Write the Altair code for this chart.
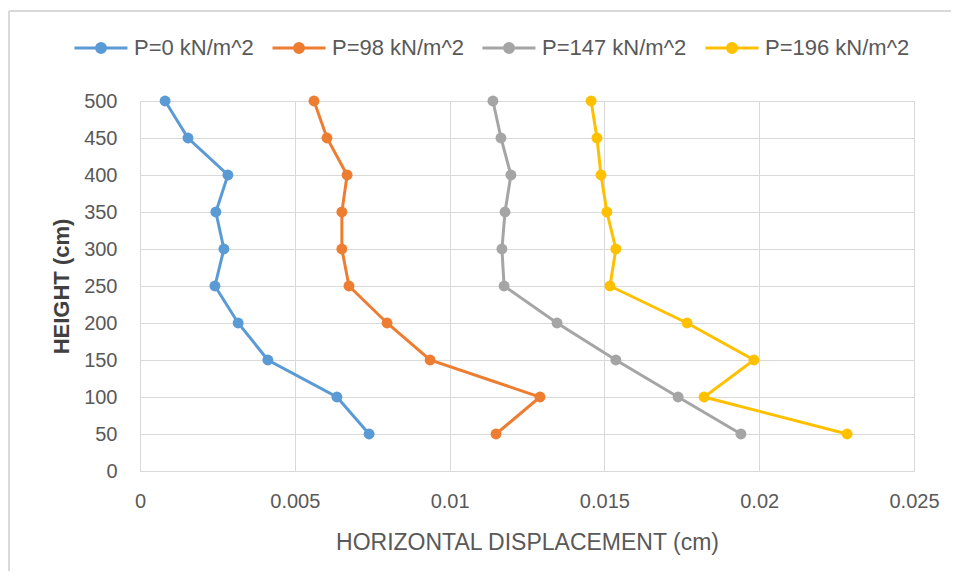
import altair as alt
import pandas as pd

heights = [500, 450, 400, 350, 300, 250, 200, 150, 100, 50]
p0 = [0.00081, 0.00155, 0.00284, 0.00245, 0.00271, 0.00242, 0.00317, 0.00413, 0.00636, 0.0074]
p98 = [0.00562, 0.00604, 0.00669, 0.00652, 0.00652, 0.00675, 0.00798, 0.00937, 0.01292, 0.0115]
p147 = [0.0114, 0.01166, 0.01198, 0.01179, 0.01169, 0.01176, 0.01347, 0.01537, 0.01738, 0.01941]
p196 = [0.01457, 0.01476, 0.01489, 0.01508, 0.01537, 0.01518, 0.01767, 0.01983, 0.01822, 0.02284]
series_names = ["P=0 kN/m^2", "P=98 kN/m^2", "P=147 kN/m^2", "P=196 kN/m^2"]
colors = ["#5B9BD5", "#ED7D31", "#A5A5A5", "#FFC000"]
x_ticks = [0, 0.005, 0.01, 0.015, 0.02, 0.025]
y_ticks = [0, 50, 100, 150, 200, 250, 300, 350, 400, 450, 500]

rows = []
for name, vals in zip(series_names, [p0, p98, p147, p196]):
    for i, (h, v) in enumerate(zip(heights, vals)):
        rows.append({"series": name, "height": h, "disp": v, "order": i})
df = pd.DataFrame(rows)

FONT = "Liberation Sans"
sym = "M-1,0L1,0M-0.17,0A0.17,0.17,0,1,1,0.17,0A0.17,0.17,0,1,1,-0.17,0Z"

lines = alt.Chart(df).mark_line(
    strokeWidth=3,
    point=alt.OverlayMarkDef(filled=True, size=120, opacity=1),
).encode(
    x=alt.X("disp:Q", scale=alt.Scale(domain=[0, 0.025], nice=False, zero=True),
            axis=alt.Axis(values=x_ticks, title="HORIZONTAL DISPLACEMENT  (cm)",
                          labelFlush=False,
                          labelExpr="datum.value == 0 ? '0' : format(datum.value, '')")),
    y=alt.Y("height:Q", scale=alt.Scale(domain=[0, 500], nice=False),
            axis=alt.Axis(values=y_ticks, title="HEIGHT  (cm)", labelFlush=False)),
    color=alt.Color("series:N", scale=alt.Scale(domain=series_names, range=colors),
                    legend=alt.Legend(
                        title=None, orient="none", direction="horizontal", columns=4,
                        legendX=-67, legendY=-81,
                        symbolType=sym, symbolSize=2809, symbolStrokeWidth=3,
                        symbolOpacity=1,
                        labelFont=FONT, labelFontSize=22, labelColor="#595959",
                        labelOffset=5, columnPadding=12,
                    )),
    order="order:Q",
    detail="series:N",
)

frame = alt.Data(values=[{}])
top_edge = alt.Chart(frame).mark_rule(stroke="#D9D9D9", strokeWidth=2).encode(
    x=alt.value(-131), x2=alt.value(1000), y=alt.value(-90)
)
left_edge = alt.Chart(frame).mark_rule(stroke="#D9D9D9", strokeWidth=2).encode(
    x=alt.value(-131), y=alt.value(-90), y2=alt.value(700)
)

chart = alt.layer(top_edge, left_edge, lines).properties(
    width=774, height=370,
    padding={"left": 132, "top": 93, "right": 37, "bottom": 100},
    autosize=alt.AutoSizeParams(type="none"),
    background="white",
).configure_view(stroke=None).configure_axis(
    grid=True, gridColor="#D9D9D9", gridWidth=1,
    domainColor="#D9D9D9", domainWidth=1, ticks=False,
    labelFont=FONT, labelFontSize=20, labelColor="#595959",
    titleFont=FONT,
).configure_axisX(
    labelPadding=20, titleFontSize=23, titleColor="#595959", titlePadding=20,
    titleFontWeight="normal",
).configure_axisY(
    labelPadding=23, titleFontSize=22, titleColor="#404040", titleFontWeight="bold",
    titlePadding=10,
)

chart.save("out.html", embed_options={"renderer": "svg", "actions": False})
